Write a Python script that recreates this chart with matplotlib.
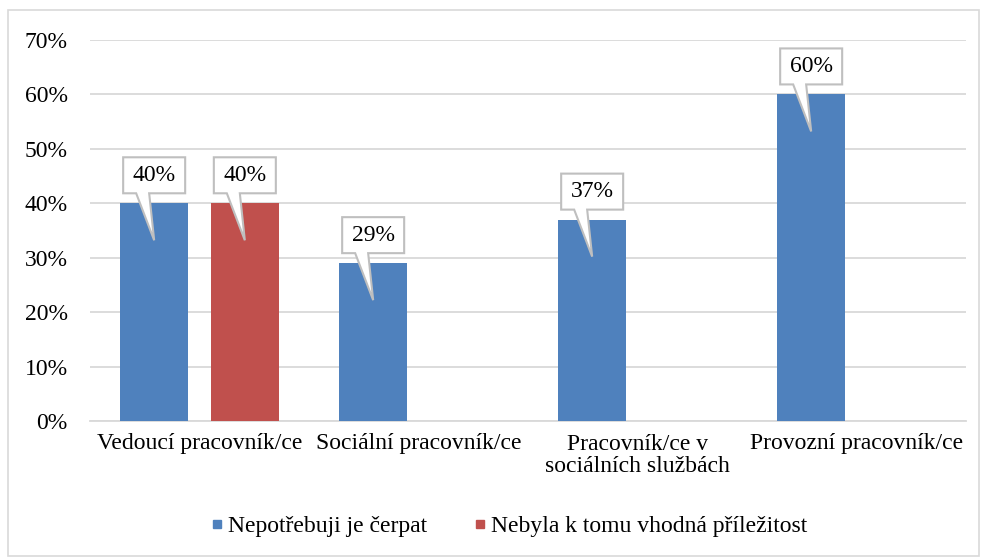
import matplotlib
matplotlib.use('Agg')
from matplotlib import pyplot as plt
from matplotlib.patches import Polygon, Rectangle
from matplotlib.lines import Line2D
from matplotlib import transforms
import numpy as np

plt.rcParams['font.family'] = ['Liberation Serif', 'DejaVu Serif']

categories = ['Vedoucí pracovník/ce', 'Sociální pracovník/ce',
              'Pracovník/ce v\nsociálních službách', 'Provozní pracovník/ce']
nepotrebuji = [40, 29, 37, 60]
nebyla = [40, None, None, None]
series_names = ['Nepotřebuji je čerpat', 'Nebyla k tomu vhodná příležitost']
colors = ['#4F81BD', '#C0504D']
yticks = [0, 10, 20, 30, 40, 50, 60, 70]

fs = 17

fig = plt.figure(figsize=(9.81, 5.59), dpi=100)
ax = fig.add_axes([90 / 981, 1 - 421 / 559, 876 / 981, 381 / 559])

# outer chart border
fig.patches.append(Rectangle((8 / 981, 3 / 559), 971 / 981, 546 / 559,
                             transform=fig.transFigure, fill=False,
                             edgecolor='#d9d9d9', linewidth=1.2))

x = np.arange(len(categories))
off = 0.207
w = 0.31


def callout(xc, v, txt):
    # speech-bubble label, shape in pixels around the bar top
    tr = transforms.Affine2D() + transforms.ScaledTranslation(xc, v, ax.transData)
    pts = [(-31, 10), (-18, 10), (0, -37), (-5, 10), (31, 10), (31, 46), (-31, 46)]
    ax.add_patch(Polygon(pts, closed=True, transform=tr, facecolor='white',
                         edgecolor='#bfbfbf', linewidth=1.5, zorder=5, clip_on=False))
    ax.text(0, 28, txt, transform=tr, ha='center', va='center', fontsize=fs,
            zorder=6)


for i, v in enumerate(nepotrebuji):
    ax.bar(x[i] - off, v, w, color=colors[0], zorder=3)
    callout(x[i] - off, v, f'{v}%')
for i, v in enumerate(nebyla):
    if v is None:
        continue
    ax.bar(x[i] + off, v, w, color=colors[1], zorder=3)
    callout(x[i] + off, v, f'{v}%')

ax.set_xlim(-0.5, len(categories) - 0.5)
ax.set_ylim(0, 70)
ax.set_yticks(yticks)
ax.set_yticklabels([f'{t}%' for t in yticks], fontsize=fs)
ax.set_xticks(x)
ax.set_xticklabels(categories, fontsize=fs, linespacing=1.1)
ax.tick_params(length=0)
ax.tick_params(axis='y', pad=16)
ax.tick_params(axis='x', pad=9)
ax.grid(axis='y', color='#d9d9d9', linewidth=1.3, zorder=0)
for s in ['top', 'right', 'left']:
    ax.spines[s].set_visible(False)
ax.spines['bottom'].set_color('#d9d9d9')
ax.spines['bottom'].set_linewidth(1.3)

handles = [Line2D([], [], marker='s', linestyle='', markersize=6, color=c)
           for c in colors]
fig.legend(handles, series_names, loc='center', bbox_to_anchor=(0.517, 1 - 526 / 559),
           ncol=2, frameon=False, fontsize=fs, handletextpad=0.05,
           columnspacing=1.85, handlelength=0.8)

fig.savefig('out.png', dpi=100)
